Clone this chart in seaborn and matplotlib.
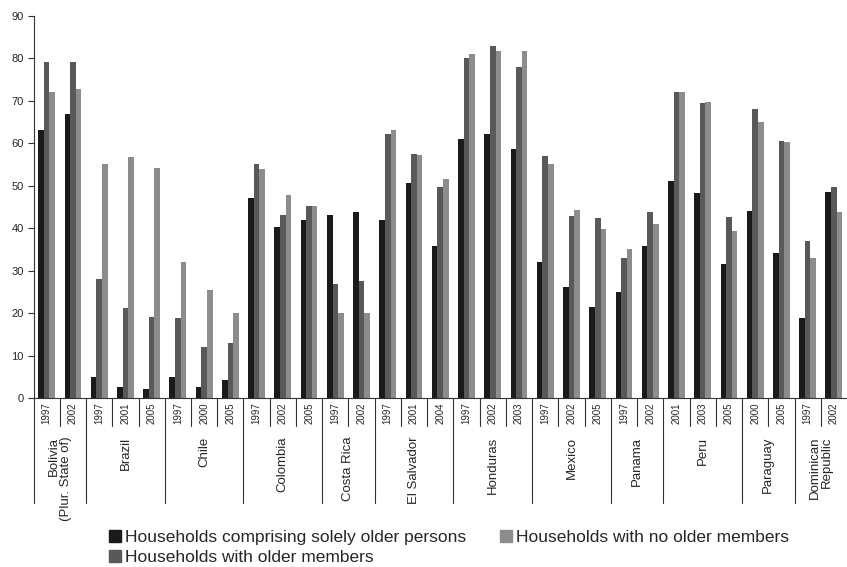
import matplotlib
matplotlib.use("Agg")
import matplotlib.pyplot as plt
import matplotlib.transforms as mtransforms
import numpy as np
import pandas as pd
import seaborn as sns

countries = ["Bolivia\n(Plur. State of)", "Brazil", "Chile", "Colombia", "Costa Rica",
             "El Salvador", "Honduras", "Mexico", "Panama", "Peru", "Paraguay",
             "Dominican\nRepublic"]
years = [["1997", "2002"], ["1997", "2001", "2005"], ["1997", "2000", "2005"],
         ["1997", "2002", "2005"], ["1997", "2002"], ["1997", "2001", "2004"],
         ["1997", "2002", "2003"], ["1997", "2002", "2005"], ["1997", "2002"],
         ["2001", "2003", "2005"], ["2000", "2005"], ["1997", "2002"]]

solely_older = [63.1, 66.9, 5.0, 2.7, 2.2, 5.0, 2.7, 4.3, 47.1, 40.3, 41.9, 43.1, 43.8,
                41.9, 50.7, 35.8, 61.0, 62.2, 58.6, 32.1, 26.2, 21.5, 25.0, 35.8,
                51.2, 48.3, 31.6, 44.1, 34.2, 18.9, 48.5]
with_older = [79.1, 79.1, 28.1, 21.2, 19.1, 18.9, 12.1, 13.0, 55.1, 43.1, 45.2, 26.9, 27.6,
              62.2, 57.5, 49.7, 80.1, 82.9, 77.9, 57.0, 42.9, 42.4, 33.0, 43.8,
              72.1, 69.5, 42.6, 68.1, 60.6, 37.0, 49.7]
no_older = [72.1, 72.8, 55.1, 56.8, 54.2, 32.1, 25.5, 20.1, 53.9, 47.8, 45.2, 20.1, 20.1,
            63.1, 57.2, 51.6, 81.0, 81.8, 81.8, 55.1, 44.3, 39.8, 35.1, 41.0,
            72.1, 69.7, 39.4, 65.0, 60.3, 33.0, 43.8]

series = ["Households comprising solely older persons", "Households with older members",
          "Households with no older members"]
colores = ["#1a1a1a", "#595959", "#8c8c8c"]

keys = []
year_labels = []
for c, ys in zip(countries, years):
    for y in ys:
        keys.append(c + " " + y)
        year_labels.append(y)

df = pd.DataFrame({"key": keys, series[0]: solely_older, series[1]: with_older,
                   series[2]: no_older})
df_long = df.melt(id_vars="key", var_name="serie", value_name="valor")

sns.set_style("white")
plt.rcParams["font.family"] = ["Liberation Sans", "DejaVu Sans"]

fig = plt.figure(figsize=(8.47, 5.67), dpi=100)
ax = fig.add_axes([0.0396, 0.2972, 0.9604, 0.6751])

sns.barplot(data=df_long, x="key", y="valor", hue="serie", order=keys,
            hue_order=series, palette=colores, width=0.64, saturation=1,
            linewidth=0, ax=ax, legend=False)

ax.set_ylim(0, 90)
ax.set_yticks(range(0, 91, 10))
ax.set_xlim(-0.5, len(keys) - 0.5)
ax.set_xlabel("")
ax.set_ylabel("")
ax.set_xticks(range(len(keys)))
ax.set_xticklabels(year_labels, rotation=90, fontsize=7)
ax.tick_params(axis="x", length=0, pad=3)
ax.tick_params(axis="y", length=4, width=0.8, labelsize=8, pad=3, left=True,
               color="#333333")
for s in ["top", "right"]:
    ax.spines[s].set_visible(False)
ax.spines["left"].set_color("#333333")
ax.spines["bottom"].set_color("#333333")
ax.spines["left"].set_linewidth(0.8)
ax.spines["bottom"].set_linewidth(0.8)

trans = mtransforms.blended_transform_factory(ax.transData, ax.transAxes)
# separadores de anios y paises
starts = []
pos = 0
for ys in years:
    starts.append(pos)
    pos += len(ys)
for i in range(len(keys)):
    largo = -0.272 if i in starts else -0.073
    ax.plot([i - 0.5, i - 0.5], [0, largo], transform=trans, color="#333333",
            lw=0.8, clip_on=False)

for c, s0, ys in zip(countries, starts, years):
    xc = s0 + (len(ys) - 1) / 2
    ax.text(xc, -0.100, c, transform=trans, rotation=90, ha="center", va="top",
            multialignment="right", fontsize=9.5, linespacing=1.0)

handles = [plt.Rectangle((0, 0), 1, 1, color=col) for col in colores]
fig.legend(handles, series, loc="upper left", bbox_to_anchor=(109 / 847, 1 - 530 / 567),
           ncol=2, frameon=False, fontsize=12.5, handlelength=0.7, handleheight=0.7,
           handletextpad=0.25, columnspacing=1.9, labelspacing=0.28,
           borderpad=0, borderaxespad=0)

fig.savefig("out.png", dpi=100)
